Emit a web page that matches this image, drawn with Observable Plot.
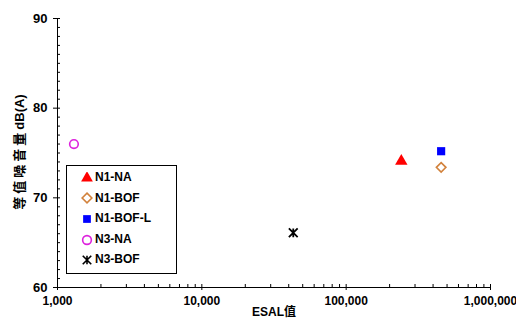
<!DOCTYPE html>
<html><head><meta charset="utf-8">
<script src="https://cdn.jsdelivr.net/npm/d3@7"></script>
<script src="https://cdn.jsdelivr.net/npm/@observablehq/plot@0.6"></script>
<style>
body{margin:0;background:#fff;}
#wrap{position:relative;width:516px;height:322px;font-family:"Liberation Sans","Noto Sans CJK TC",Arial,sans-serif;}
#legend{position:absolute;left:66px;top:165px;width:111px;height:109px;border:1px solid #000;box-sizing:border-box;background:#fff;font-weight:bold;font-size:12px;}
#legend div{position:absolute;left:0;height:16px;line-height:16px;white-space:nowrap;}
#legend svg{vertical-align:middle;margin-right:2px;}
#ylab{position:absolute;left:18px;top:152px;transform:translate(-50%,-50%) rotate(-90deg);white-space:nowrap;font-weight:bold;font-size:13px;}
#ylab span{letter-spacing:3px;}
</style></head>
<body><div id="wrap"></div>
<script>
const series = ["N1-NA", "N1-BOF", "N1-BOF-L", "N3-NA", "N3-BOF"];
const esal = [241000, 455000, 455000, 1300, 43000];
const noise = [74.1, 73.4, 75.2, 76.0, 66.1];
const symbols = ["triangle", "diamond2", "square", "circle", "star6"];
const colors = ["#ff0000", "#d2823c", "#0000ff", "#dd22dd", "#000000"];
const filled = [true, false, true, false, false];
const xMajor = [1000, 10000, 100000, 1000000];
const yMajor = [60, 70, 80, 90];
const yMinor = d3.range(60, 91, 1);
const xMinor = [1,2,3,4,5,6,7,8,9].flatMap(m => [1000, 10000, 100000].map(d => m * d)).concat([1000000]);
const yLabel = ["等值噪音量", "dB(A)"];
const xLabel = "ESAL值";

// Excel-style "star" marker: an X with a vertical bar
const star6 = {
  draw(ctx, size) {
    const r = Math.sqrt(size) * 0.55;
    ctx.moveTo(-r, -r); ctx.lineTo(r, r);
    ctx.moveTo(-r, r); ctx.lineTo(r, -r);
    ctx.moveTo(0, -r); ctx.lineTo(0, r);
  }
};
const symMap = {triangle: d3.symbolTriangle, diamond2: d3.symbolDiamond2, square: d3.symbolSquare, circle: d3.symbolCircle, star6};

const data = series.map((s, i) => ({s, x: esal[i], y: noise[i], sym: symMap[symbols[i]], c: colors[i], f: filled[i]}));
const font = "'Liberation Sans','Noto Sans CJK TC',Arial,sans-serif";

const chart = Plot.plot({
  width: 516, height: 322,
  marginLeft: 57, marginRight: 26, marginTop: 18, marginBottom: 35,
  style: {fontFamily: font, fontSize: "12px", fontWeight: "bold", color: "#000", background: "#fff"},
  x: {type: "log", domain: [1000, 1000000]},
  y: {domain: [60, 90]},
  symbol: {type: "identity"},
  marks: [
    Plot.axisY({ticks: yMinor, tickSize: -3, text: null, label: null}),
    Plot.axisY({ticks: yMajor, tickSize: 4, tickPadding: 6, label: null, fontSize: 13}),
    Plot.axisX({ticks: xMinor, tickSize: -3, text: null, label: null}),
    Plot.axisX({ticks: xMajor, tickSize: 3, tickPadding: 6, tickFormat: d3.format(","), label: null, fontSize: 12}),
    Plot.ruleX([1000], {stroke: "#000"}),
    Plot.ruleY([60], {stroke: "#000"}),
    Plot.dot(data.filter(d => d.f), {x: "x", y: "y", symbol: "sym", fill: "c", r: 4.6, stroke: "none"}),
    Plot.dot(data.filter(d => !d.f && d.s !== "N3-BOF"), {x: "x", y: "y", symbol: "sym", stroke: "c", fill: "none", r: 4.3, strokeWidth: 1.6}),
    Plot.dot(data.filter(d => d.s === "N3-BOF"), {x: "x", y: "y", symbol: "sym", stroke: "c", fill: "none", r: 4.5, strokeWidth: 1.8}),
    Plot.text([xLabel], {frameAnchor: "bottom", dy: 28, fontSize: 12, fontWeight: "bold"})
  ]
});
const wrap = document.getElementById("wrap");
wrap.appendChild(chart);

const yl = document.createElement("div");
yl.id = "ylab";
yl.innerHTML = `<span>${yLabel[0]}</span>${yLabel[1]}`;
wrap.appendChild(yl);

const leg = document.createElement("div");
leg.id = "legend";
series.forEach((s, i) => {
  const row = document.createElement("div");
  row.style.top = (3 + i * 20.6) + "px";
  row.style.left = "14px";
  const pathGen = d3.symbol(symMap[symbols[i]], filled[i] ? 60 : 60);
  const st = filled[i] ? `fill="${colors[i]}"` : `fill="none" stroke="${colors[i]}" stroke-width="1.6"`;
  row.innerHTML = `<svg width="12" height="12" viewBox="-6 -6 12 12"><path d="${pathGen()}" ${st}/></svg>${s}`;
  leg.appendChild(row);
});
wrap.appendChild(leg);
</script></body></html>
